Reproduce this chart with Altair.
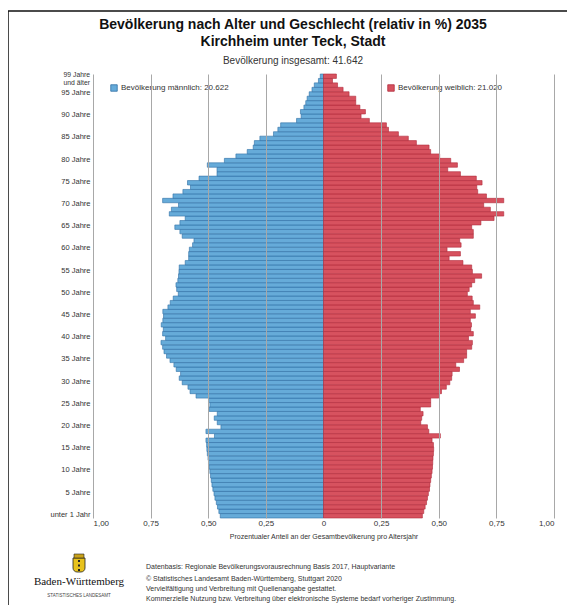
import altair as alt
import pandas as pd

# ---------------- data ----------------
ages = list(range(100))

male = [0.448, 0.454, 0.460, 0.465, 0.471, 0.475, 0.480, 0.484, 0.487, 0.490,
        0.493, 0.496, 0.499, 0.501, 0.504, 0.506, 0.507, 0.510, 0.473, 0.510,
        0.445, 0.461, 0.474, 0.461, 0.496, 0.493, 0.499, 0.553, 0.579, 0.588,
        0.613, 0.626, 0.620, 0.639, 0.649, 0.666, 0.681, 0.692, 0.698, 0.705,
        0.685, 0.698, 0.695, 0.704, 0.697, 0.694, 0.697, 0.675, 0.665, 0.652,
        0.630, 0.637, 0.640, 0.632, 0.629, 0.627, 0.626, 0.600, 0.585, 0.585,
        0.582, 0.568, 0.562, 0.613, 0.623, 0.645, 0.623, 0.600, 0.669, 0.660,
        0.629, 0.698, 0.653, 0.610, 0.577, 0.590, 0.540, 0.462, 0.462, 0.504,
        0.430, 0.380, 0.331, 0.305, 0.300, 0.276, 0.217, 0.198, 0.186, 0.117,
        0.097, 0.100, 0.085, 0.077, 0.071, 0.062, 0.050, 0.040, 0.022, 0.014]

female = [0.429, 0.435, 0.441, 0.447, 0.451, 0.455, 0.460, 0.462, 0.465, 0.468,
          0.471, 0.473, 0.474, 0.475, 0.477, 0.478, 0.477, 0.471, 0.507, 0.457,
          0.451, 0.422, 0.426, 0.432, 0.420, 0.465, 0.465, 0.500, 0.512, 0.533,
          0.548, 0.556, 0.558, 0.590, 0.574, 0.608, 0.621, 0.621, 0.643, 0.646,
          0.629, 0.650, 0.639, 0.642, 0.637, 0.659, 0.637, 0.678, 0.650, 0.645,
          0.624, 0.632, 0.643, 0.656, 0.686, 0.646, 0.643, 0.605, 0.545, 0.594,
          0.536, 0.597, 0.591, 0.650, 0.650, 0.643, 0.683, 0.740, 0.782, 0.724,
          0.695, 0.782, 0.707, 0.669, 0.665, 0.688, 0.663, 0.594, 0.539, 0.581,
          0.552, 0.504, 0.465, 0.458, 0.403, 0.368, 0.325, 0.282, 0.273, 0.199,
          0.163, 0.182, 0.158, 0.140, 0.140, 0.111, 0.085, 0.061, 0.039, 0.056]

male_label = "Bevölkerung männlich: 20.622"
female_label = "Bevölkerung weiblich: 21.020"
title_line1 = "Bevölkerung nach Alter und Geschlecht (relativ in %) 2035"
title_line2 = "Kirchheim unter Teck, Stadt"
subtitle = "Bevölkerung insgesamt: 41.642"
x_title = "Prozentualer Anteil an der Gesamtbevölkerung pro Altersjahr"
x_ticks = [-1, -0.75, -0.5, -0.25, 0, 0.25, 0.5, 0.75, 1]
y_ticks = [95, 90, 85, 80, 75, 70, 65, 60, 55, 50, 45, 40, 35, 30, 25, 20, 15, 10, 5, 0]
top_label = ["99 Jahre", "und älter"]
footer_lines = [
    "Datenbasis: Regionale Bevölkerungsvorausrechnung Basis 2017, Hauptvariante",
    "© Statistisches Landesamt Baden-Württemberg, Stuttgart 2020",
    "Vervielfältigung und Verbreitung mit Quellenangabe gestattet.",
    "Kommerzielle Nutzung bzw. Verbreitung über elektronische Systeme bedarf vorheriger Zustimmung.",
]
logo_name = "Baden-Württemberg"
logo_sub = "STATISTISCHES LANDESAMT"

# ---------------- styling ----------------
FONT = "Liberation Sans"
BLUE, BLUE_S = "#66abd9", "#2f6fa5"
RED, RED_S = "#d7525f", "#b02a3b"
TXT = "#333333"
W, H = 461, 444

df_m = pd.DataFrame({"age": ages, "value": [-v for v in male], "lab": male_label})
df_f = pd.DataFrame({"age": ages, "value": female, "lab": female_label})

y_enc = alt.Y(
    "age:O", sort="descending",
    scale=alt.Scale(paddingInner=0, paddingOuter=0),
    axis=alt.Axis(
        values=y_ticks,
        labelExpr="datum.value == 0 ? 'unter 1 Jahr' : datum.value + ' Jahre'",
        domain=False, ticks=False, grid=False, title=None,
        labelPadding=3, labelFontSize=7.5, labelColor=TXT, labelFont=FONT,
        labelOverlap=False, labelOffset=-1,
    ),
)

x_enc = alt.X(
    "value:Q",
    scale=alt.Scale(domain=[-1, 1], nice=False),
    axis=alt.Axis(
        values=x_ticks,
        labelExpr="datum.value == 0 ? '0' : replace(format(abs(datum.value), '.2f'), '.', ',')",
        grid=True,
        gridColor={"condition": {"test": "datum.value === 0", "value": "transparent"}, "value": "#a8a8a8"},
        gridWidth=1, domain=False, ticks=False, zindex=1,
        labelFontSize=8, labelColor=TXT, labelFont=FONT, labelPadding=1,
        title=x_title, titleFontSize=7, titleFontWeight="normal", titleColor=TXT,
        titleFont=FONT, titlePadding=5,
    ),
)


def legend(lx, color_s):
    return alt.Legend(
        orient="none", legendX=lx, legendY=10, title=None,
        symbolType="square", symbolSize=42, symbolStrokeWidth=0.8,
        symbolStrokeColor=color_s,
        labelFontSize=8, labelColor=TXT, labelFont=FONT, labelOffset=3, padding=0,
    )


bars_m = alt.Chart(df_m).mark_bar(stroke=BLUE_S, strokeWidth=0.6).encode(
    x=x_enc, y=y_enc,
    color=alt.Color("lab:N", scale=alt.Scale(range=[BLUE]), legend=legend(17, BLUE_S)),
)
bars_f = alt.Chart(df_f).mark_bar(stroke=RED_S, strokeWidth=0.6).encode(
    x=x_enc, y=y_enc,
    color=alt.Color("lab:N", scale=alt.Scale(range=[RED]), legend=legend(294, RED_S)),
)

one = alt.Data(values=[{"k": 1}])


def text(t, x, y, size, align="center", weight="normal", font=FONT, color=TXT, **kw):
    return alt.Chart(one).mark_text(
        text=t, fontSize=size, align=align, baseline="middle",
        fontWeight=weight, font=font, color=color, **kw
    ).encode(x=alt.value(x), y=alt.value(y))


texts = [
    text(title_line1, 200, -49, 14, weight="bold", color="#111111"),
    text(title_line2, 200, -32, 14, weight="bold", color="#111111"),
    text(subtitle, 200, -13, 10),
    text(top_label[0], -3, 0.6, 6.8, align="right"),
    text(top_label[1], -3, 8.6, 6.8, align="right"),
    text(footer_lines[0], 53, 493, 7, align="left"),
    text(footer_lines[1], 53, 505, 7, align="left"),
    text(footer_lines[2], 53, 515, 7, align="left"),
    text(footer_lines[3], 53, 525, 7, align="left"),
    text(logo_name, -14, 508, 11, font="Liberation Serif", color="#111111"),
    text(logo_sub, -14, 522, 4.5, color="#444444"),
]

frame = alt.Chart(one).mark_rect(fill="transparent", stroke="#111111", strokeWidth=1.5).encode(
    x=alt.value(-85), x2=alt.value(476), y=alt.value(-63), y2=alt.value(600)
)
logo_shield = alt.Chart(one).mark_rect(fill="#e8c21c", stroke="#222222", strokeWidth=0.8,
                                       cornerRadiusBottomLeft=4, cornerRadiusBottomRight=4).encode(
    x=alt.value(-20), x2=alt.value(-8), y=alt.value(484), y2=alt.value(498)
)
logo_crown = alt.Chart(one).mark_rect(fill="#c9a21a", stroke="#222222", strokeWidth=0.6).encode(
    x=alt.value(-19), x2=alt.value(-9), y=alt.value(480), y2=alt.value(484)
)
logo_lions = alt.Chart(one).mark_rule(color="#222222", strokeWidth=2, strokeDash=[2, 2.5]).encode(
    x=alt.value(-14), y=alt.value(486), y2=alt.value(497)
)

chart = alt.layer(frame, bars_m, bars_f, logo_shield, logo_crown, logo_lions, *texts).resolve_scale(
    color="independent"
).properties(
    width=W, height=H,
    padding={"left": 85, "top": 66, "right": 13, "bottom": 87},
    autosize=alt.AutoSizeParams(type="none"),
).configure(font=FONT).configure_view(stroke="transparent")

chart.save("out.html", embed_options={"renderer": "svg", "actions": False})
